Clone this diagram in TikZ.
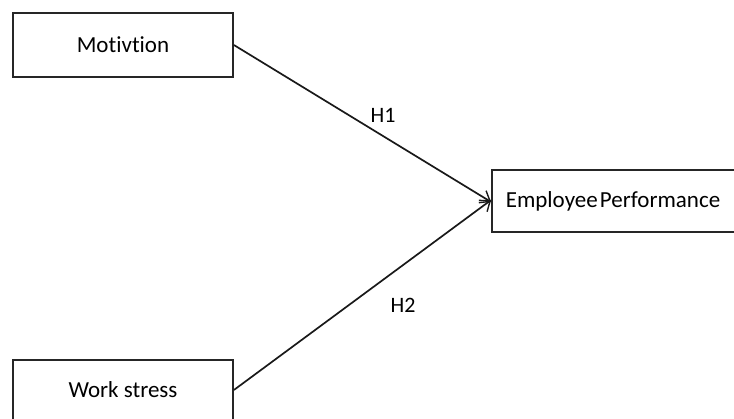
\documentclass[tikz,border=0pt]{standalone}
\usepackage{fontspec}
\setmainfont{Carlito}[RawFeature={-liga;-clig;-dlig;-calt;-rlig}]
\usetikzlibrary{arrows.meta}
\begin{document}
\begin{tikzpicture}[x=1pt,y=-1pt,
  box/.style={draw=black!85,line width=1.8pt,fill=white,inner sep=0pt,font=\fontsize{23}{28}\selectfont},
  link/.style={draw=black!90,line width=1.7pt,-{Straight Barb[length=9pt,width=14pt,line width=1.4pt]}},
  lab/.style={font=\fontsize{22}{26}\selectfont}]
\useasboundingbox (0,0) rectangle (734,419);
\clip (0,0) rectangle (734,419);
\node[box,minimum width=220pt,minimum height=64pt] (m) at (123,45) {Mot\kern0pt ivt\kern0pt ion};
\node[box,minimum width=220pt,minimum height=60pt] (w) at (123,390) {Work stress};
\node[box,minimum width=248pt,minimum height=62pt] (e) at (616,201) {\hspace*{-6pt}Employee\hspace{-3pt} Performance};
\draw[link] (m.east) -- ([yshift=-1pt]e.west);
\draw[link] (w.east) -- ([yshift=1pt]e.west);
\node[lab] (h1) at (383,115) {H1};
\node[lab] (h2) at (403,305) {H2};
\end{tikzpicture}
\end{document}
